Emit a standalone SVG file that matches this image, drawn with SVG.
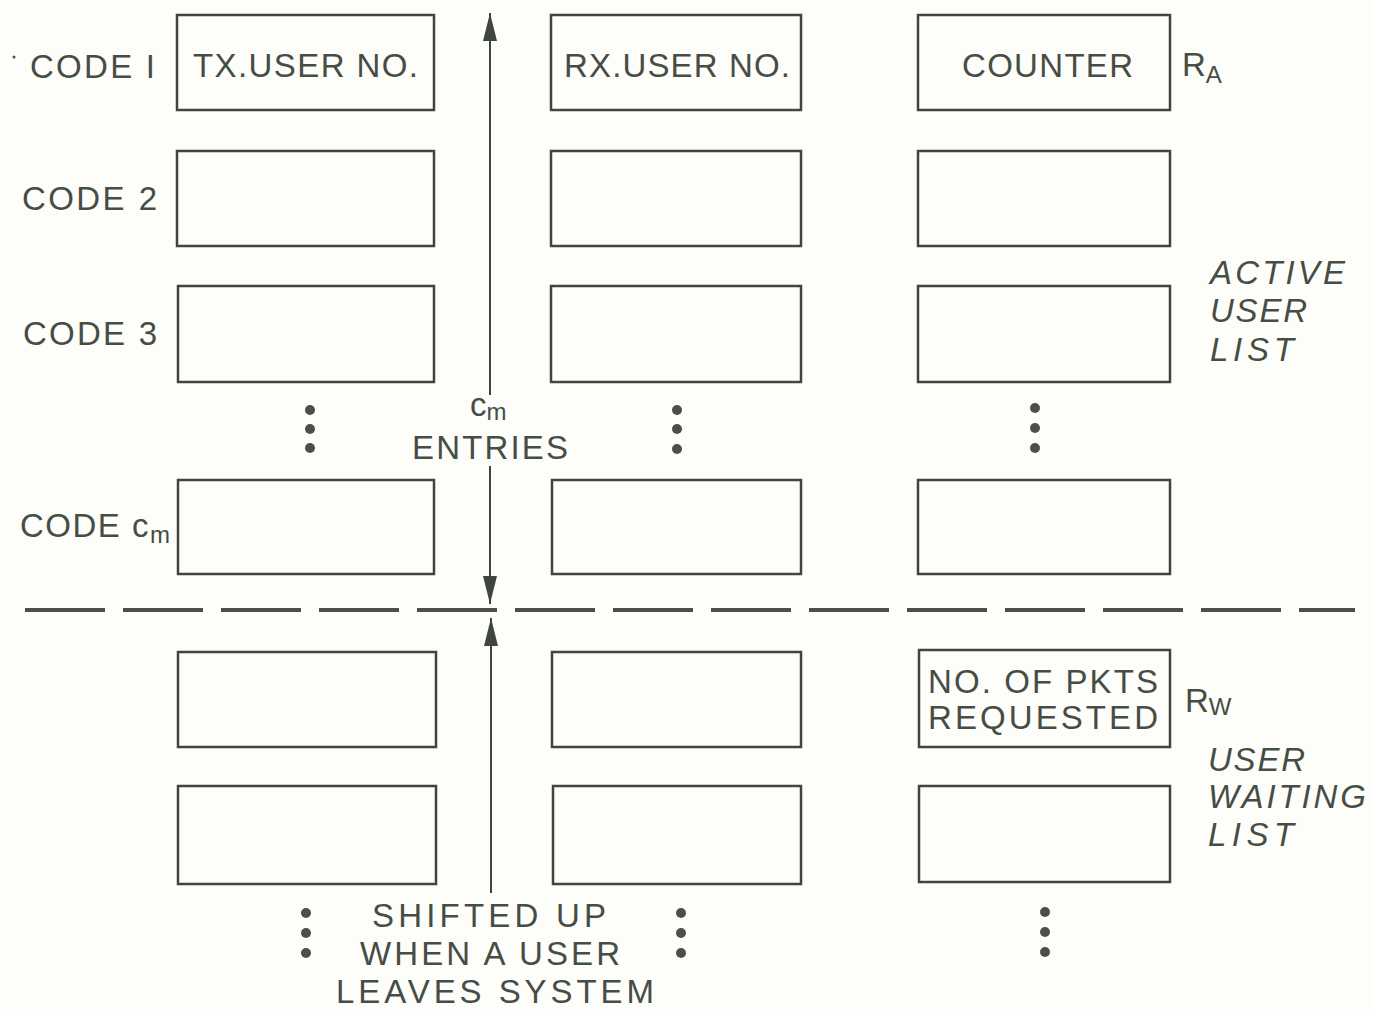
<svg xmlns="http://www.w3.org/2000/svg" width="1373" height="1010" viewBox="0 0 1373 1010">
<defs>
<style>
.b{fill:none;stroke:#3f463d;stroke-width:2.5}
.t{font-family:"Liberation Sans",Arial,sans-serif;font-size:33px;fill:#464d44}
.i{font-style:italic}
.s{font-size:24px}
.d{fill:#4a5048}
.ln{stroke:#3f463d;stroke-width:2;fill:none}
.dash{stroke:#4a5048;stroke-width:4;fill:none;stroke-dasharray:80 18}
</style>
<marker id="ah" viewBox="0 0 28 14" refX="28" refY="7" markerWidth="28" markerHeight="14" orient="auto" markerUnits="userSpaceOnUse">
<path d="M0,0 L28,7 L0,14 Z" fill="#3f463d"/>
</marker>
</defs>
<rect width="1373" height="1010" fill="#fdfdfa"/>
<g id="labels-left">
<text class="t" x="30" y="78" textLength="125" lengthAdjust="spacing">CODE I</text>
<text class="t" x="22" y="210" textLength="135" lengthAdjust="spacing">CODE 2</text>
<text class="t" x="23" y="345" textLength="134" lengthAdjust="spacing">CODE 3</text>
<text class="t" x="20" y="537" letter-spacing="1.5">CODE c<tspan class="s" dy="6" letter-spacing="1">m</tspan></text>
<circle class="d" cx="14" cy="57" r="1.5"/>
</g>
<g id="col1">
<rect class="b" x="177" y="15" width="257" height="95"/>
<text class="t" x="193" y="77" textLength="225" lengthAdjust="spacing">TX.USER NO.</text>
<rect class="b" x="177" y="151" width="257" height="95"/>
<rect class="b" x="178" y="286" width="256" height="96"/>
<rect class="b" x="178" y="480" width="256" height="94"/>
<rect class="b" x="178" y="652" width="258" height="95"/>
<rect class="b" x="178" y="786" width="258" height="98"/>
</g>
<g id="col2">
<rect class="b" x="551" y="15" width="250" height="95"/>
<text class="t" x="564" y="77" textLength="226" lengthAdjust="spacing">RX.USER NO.</text>
<rect class="b" x="551" y="151" width="250" height="95"/>
<rect class="b" x="551" y="286" width="250" height="96"/>
<rect class="b" x="552" y="480" width="249" height="94"/>
<rect class="b" x="552" y="652" width="249" height="95"/>
<rect class="b" x="553" y="786" width="248" height="98"/>
</g>
<g id="col3">
<rect class="b" x="918" y="15" width="252" height="95"/>
<text class="t" x="962" y="77" textLength="171" lengthAdjust="spacing">COUNTER</text>
<rect class="b" x="918" y="151" width="252" height="95"/>
<rect class="b" x="918" y="286" width="252" height="96"/>
<rect class="b" x="918" y="480" width="252" height="94"/>
<rect class="b" x="919" y="650" width="251" height="97"/>
<text class="t" x="928" y="693" textLength="230" lengthAdjust="spacing">NO. OF PKTS</text>
<text class="t" x="928" y="729" textLength="230" lengthAdjust="spacing">REQUESTED</text>
<rect class="b" x="919" y="786" width="251" height="96"/>
</g>
<g id="right-labels">
<text class="t" x="1182" y="76">R<tspan class="s" dy="7">A</tspan></text>
<text class="t i" x="1210" y="284" textLength="135" lengthAdjust="spacing">ACTIVE</text>
<text class="t i" x="1210" y="322" textLength="97" lengthAdjust="spacing">USER</text>
<text class="t i" x="1210" y="361" textLength="84" lengthAdjust="spacing">LIST</text>
<text class="t" x="1185" y="712">R<tspan class="s" dy="3" letter-spacing="1">W</tspan></text>
<text class="t i" x="1208" y="771" textLength="97" lengthAdjust="spacing">USER</text>
<text class="t i" x="1208" y="808" textLength="158" lengthAdjust="spacing">WAITING</text>
<text class="t i" x="1208" y="846" textLength="86" lengthAdjust="spacing">LIST</text>
</g>
<g id="dots">
<circle class="d" cx="310" cy="410" r="5"/><circle class="d" cx="310" cy="429" r="5"/><circle class="d" cx="310" cy="448" r="5"/>
<circle class="d" cx="677" cy="410" r="5"/><circle class="d" cx="677" cy="429" r="5"/><circle class="d" cx="677" cy="449" r="5"/>
<circle class="d" cx="1035" cy="408" r="5"/><circle class="d" cx="1035" cy="428" r="5"/><circle class="d" cx="1035" cy="448" r="5"/>
<circle class="d" cx="306" cy="913" r="5"/><circle class="d" cx="306" cy="933" r="5"/><circle class="d" cx="306" cy="953" r="5"/>
<circle class="d" cx="681" cy="913" r="5"/><circle class="d" cx="681" cy="933" r="5"/><circle class="d" cx="681" cy="953" r="5"/>
<circle class="d" cx="1045" cy="912" r="5"/><circle class="d" cx="1045" cy="932" r="5"/><circle class="d" cx="1045" cy="952" r="5"/>
</g>
<g id="center-labels">
<text class="t" x="470" y="416">c<tspan class="s" dy="4">m</tspan></text>
<text class="t" x="412" y="459" textLength="156" lengthAdjust="spacing">ENTRIES</text>
<text class="t" x="372" y="927" textLength="234" lengthAdjust="spacing">SHIFTED UP</text>
<text class="t" x="360" y="965" textLength="260" lengthAdjust="spacing">WHEN A USER</text>
<text class="t" x="336" y="1003" textLength="318" lengthAdjust="spacing">LEAVES SYSTEM</text>
</g>
<g id="connectors">
<line class="ln" x1="490" y1="395" x2="490" y2="13" marker-end="url(#ah)"/>
<line class="ln" x1="490" y1="466" x2="490" y2="604" marker-end="url(#ah)"/>
<line class="ln" x1="491" y1="893" x2="491" y2="618" marker-end="url(#ah)"/>
<line class="dash" x1="25" y1="610" x2="1355" y2="610"/>
</g>
</svg>
